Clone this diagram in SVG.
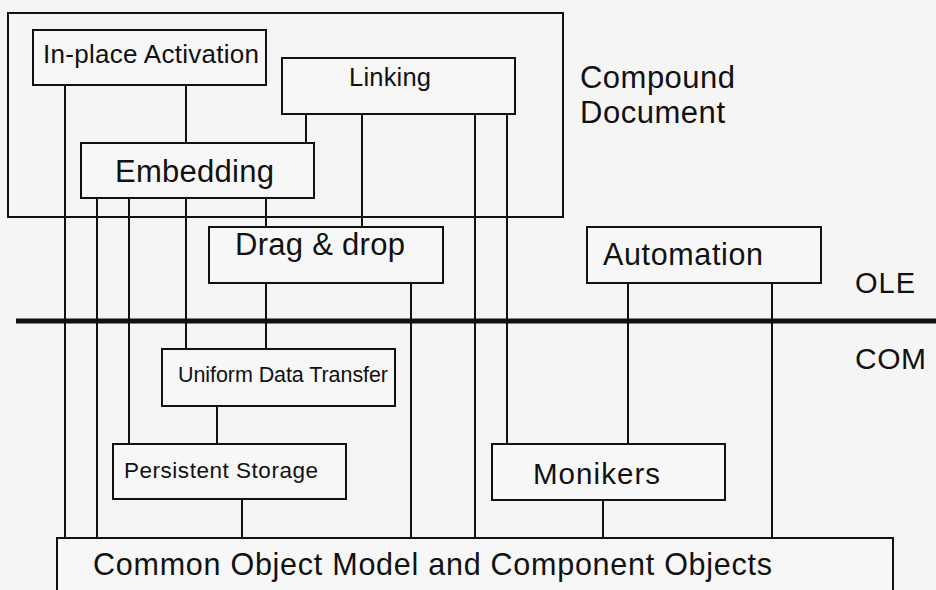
<svg xmlns="http://www.w3.org/2000/svg" width="936" height="590" viewBox="0 0 936 590">
  <style>
    .box { fill: #f7f7f7; stroke: #111; stroke-width: 2; }
    .frame { fill: none; stroke: #111; stroke-width: 2; }
    .link { fill: none; stroke: #111; stroke-width: 2; }
    .divider { fill: none; stroke: #111; stroke-width: 5; }
    text { font-family: "Liberation Sans", Arial, Helvetica, sans-serif; fill: #111; }
  </style>
  <rect x="0" y="0" width="936" height="590" fill="#f5f5f5"/>

  <!-- Compound Document frame -->
  <g id="compound-document">
    <rect class="frame" x="8" y="13" width="555" height="204"/>
    <text x="580" y="88" font-size="31" textLength="155" lengthAdjust="spacing">Compound</text>
    <text x="580" y="123" font-size="31" textLength="145" lengthAdjust="spacing">Document</text>
  </g>

  <!-- OLE / COM layer divider -->
  <g id="layer-divider">
    <line class="divider" x1="16" y1="321" x2="936" y2="321"/>
    <text x="855" y="293" font-size="29" textLength="60" lengthAdjust="spacing">OLE</text>
    <text x="855" y="369" font-size="30" textLength="71" lengthAdjust="spacing">COM</text>
  </g>

  <!-- connectors -->
  <g id="connectors">
    <line class="link" x1="65" y1="85" x2="65" y2="538"/>
    <line class="link" x1="186" y1="85" x2="186" y2="143"/>
    <line class="link" x1="306" y1="114" x2="306" y2="143"/>
    <line class="link" x1="362" y1="114" x2="362" y2="227"/>
    <line class="link" x1="475" y1="114" x2="475" y2="538"/>
    <line class="link" x1="507" y1="114" x2="507" y2="444"/>
    <line class="link" x1="97" y1="198" x2="97" y2="538"/>
    <line class="link" x1="129" y1="198" x2="129" y2="444"/>
    <line class="link" x1="186" y1="198" x2="186" y2="349"/>
    <line class="link" x1="266" y1="198" x2="266" y2="227"/>
    <line class="link" x1="266" y1="283" x2="266" y2="349"/>
    <line class="link" x1="411" y1="283" x2="411" y2="538"/>
    <line class="link" x1="217" y1="406" x2="217" y2="444"/>
    <line class="link" x1="242" y1="499" x2="242" y2="538"/>
    <line class="link" x1="628" y1="283" x2="628" y2="444"/>
    <line class="link" x1="772" y1="283" x2="772" y2="538"/>
    <line class="link" x1="603" y1="500" x2="603" y2="538"/>
  </g>

  <g id="in-place-activation">
    <rect class="box" x="33" y="30" width="233" height="55"/>
    <text x="43" y="63" font-size="26" textLength="216" lengthAdjust="spacing">In-place Activation</text>
  </g>

  <g id="linking">
    <rect class="box" x="282" y="58" width="233" height="56"/>
    <text x="349" y="86" font-size="25.5" textLength="82" lengthAdjust="spacing">Linking</text>
  </g>

  <g id="embedding">
    <rect class="box" x="81" y="143" width="233" height="55"/>
    <text x="115" y="182" font-size="31" textLength="159" lengthAdjust="spacing">Embedding</text>
  </g>

  <g id="drag-and-drop">
    <rect class="box" x="209" y="227" width="234" height="56"/>
    <text x="235" y="255" font-size="31" textLength="170" lengthAdjust="spacing">Drag &amp; drop</text>
  </g>

  <g id="automation">
    <rect class="box" x="587" y="227" width="234" height="56"/>
    <text x="603" y="265" font-size="30.5" textLength="160" lengthAdjust="spacing">Automation</text>
  </g>

  <g id="uniform-data-transfer">
    <rect class="box" x="162" y="349" width="233" height="57"/>
    <text x="178" y="382" font-size="21.5" textLength="210" lengthAdjust="spacing">Uniform Data Transfer</text>
  </g>

  <g id="persistent-storage">
    <rect class="box" x="113" y="444" width="233" height="55"/>
    <text x="124" y="478" font-size="22.5" textLength="194" lengthAdjust="spacing">Persistent Storage</text>
  </g>

  <g id="monikers">
    <rect class="box" x="492" y="444" width="233" height="56"/>
    <text x="533" y="484" font-size="29.5" textLength="127" lengthAdjust="spacing">Monikers</text>
  </g>

  <g id="component-object-model">
    <rect class="box" x="57" y="538" width="836" height="70"/>
    <text x="93" y="575" font-size="30.5" textLength="679" lengthAdjust="spacing">Common Object Model and Component Objects</text>
  </g>
</svg>
